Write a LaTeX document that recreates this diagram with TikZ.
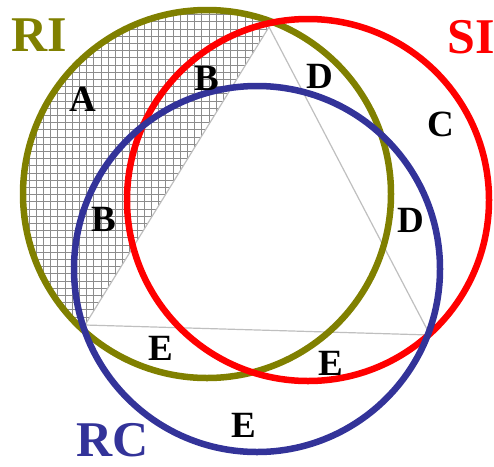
\documentclass[tikz,border=0pt]{standalone}
\usepackage{fontspec}
\setmainfont{Liberation Serif}
\usetikzlibrary{calc}
\definecolor{riolive}{RGB}{128,128,0}
\definecolor{sired}{RGB}{255,0,0}
\definecolor{rcblue}{RGB}{51,51,153}

\begin{document}
\begin{tikzpicture}[x=1pt,y=-1pt,ring/.style={line width=6.5pt},side/.style={draw=black!25,line width=1.2pt},zone/.style={font=\fontsize{37}{40}\selectfont\bfseries,inner sep=0pt},setname/.style={font=\fontsize{50}{54}\selectfont\bfseries,inner sep=0pt}]
\useasboundingbox (0,0) rectangle (494,466);
\coordinate (top) at (269,27);
\coordinate (lft) at (85,325);
\coordinate (rgt) at (430,335);
% hatched part of RI
\begin{scope}
\clip (207,194) circle (184);
\clip ($(top)!-0.3!(lft)$) -- ($(lft)!-0.4!(top)$) -- (-20,480) -- (-20,-20) -- cycle;
\draw[black!45,line width=0.5pt,step=7.2pt] (0,0) grid (494,466);
\end{scope}
\draw[side] (top) -- (lft) -- (rgt) -- cycle;
\draw[ring,draw=riolive] (207,194) circle (184);
\draw[ring,draw=sired] (308,200) circle (181);
\draw[ring,draw=rcblue] (257,269) circle (183);
\node[setname,text=riolive] (ri) at (39,35) {RI};
\node[setname,text=sired] (si) at (471,37) {SI};
\node[setname,text=rcblue] (rc) at (113,440) {RC};
\node[zone] (a) at (83,99) {A};
\node[zone] (b1) at (207,78) {B};
\node[zone] (b2) at (104,219) {B};
\node[zone] (c) at (441,124) {C};
\node[zone] (d1) at (320,76) {D};
\node[zone] (d2) at (411,220) {D};
\node[zone] (e1) at (161,348) {E};
\node[zone] (e2) at (331,363) {E};
\node[zone] (e3) at (244,425) {E};
\end{tikzpicture}
\end{document}
